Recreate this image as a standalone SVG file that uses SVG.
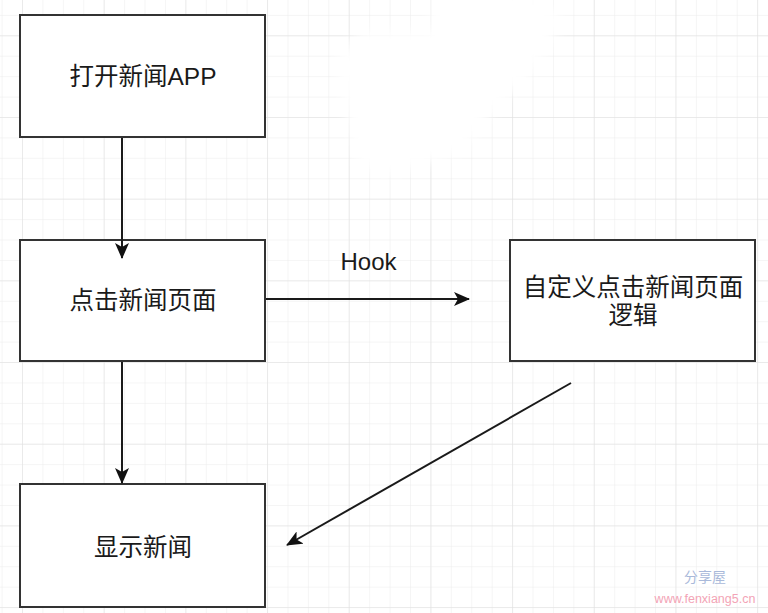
<svg xmlns="http://www.w3.org/2000/svg" width="768" height="613" viewBox="0 0 768 613">
<style>
.box{fill:#ffffff;stroke:#333333;stroke-width:2}
.lbl{font-family:"Liberation Sans","Noto Sans CJK SC",sans-serif;font-size:24.5px;fill:#1a1a1a;text-anchor:middle}
.edge{stroke:#1a1a1a;stroke-width:2;fill:none}
</style>
<defs>
<pattern id="minor" patternUnits="userSpaceOnUse" x="1.6" y="14.9" width="20.42" height="20.42">
<path d="M0 0V20.42M0 0H20.42" stroke="#ececec" stroke-width="1" fill="none"/>
</pattern>
<pattern id="major" patternUnits="userSpaceOnUse" x="22" y="35.3" width="81.68" height="81.68">
<path d="M0 0V81.68M0 0H81.68" stroke="#e0e0e0" stroke-width="1" fill="none"/>
</pattern>
<marker id="arr" viewBox="0 0 16 14" refX="15" refY="7" markerWidth="16" markerHeight="14" markerUnits="userSpaceOnUse" orient="auto">
<path d="M0 0L16 7L0 14L4 7Z" fill="#111111"/>
</marker>
<filter id="soft" x="-20%" y="-20%" width="140%" height="140%"><feGaussianBlur stdDeviation="6"/></filter>
</defs>
<rect width="768" height="613" fill="#ffffff"/>
<rect width="768" height="613" fill="url(#minor)"/>
<rect width="768" height="613" fill="url(#major)"/>
<polygon points="432,-10 525,-10 565,20 525,80 492,112 462,150 430,162 382,176 356,160 336,60 360,32 430,30" fill="#ffffff" filter="url(#soft)"/>
<g id="n1">
<rect class="box" x="20" y="15" width="245" height="122"/>
<text class="lbl" x="143" y="85">打开新闻APP</text>
</g>
<g id="n2">
<rect class="box" x="20" y="240" width="245" height="121"/>
<text class="lbl" x="143" y="309">点击新闻页面</text>
</g>
<g id="n3">
<rect class="box" x="20" y="484" width="245" height="123"/>
<text class="lbl" x="143" y="556">显示新闻</text>
</g>
<g id="n4">
<rect class="box" x="510" y="240" width="245" height="121"/>
<text class="lbl" x="633" y="296">自定义点击新闻页面</text>
<text class="lbl" x="633" y="324">逻辑</text>
</g>
<g id="connectors">
<line class="edge" x1="122" y1="138" x2="122" y2="258" marker-end="url(#arr)"/>
<line class="edge" x1="122" y1="362" x2="122" y2="483" marker-end="url(#arr)"/>
<line class="edge" x1="266" y1="299" x2="469" y2="299" marker-end="url(#arr)"/>
<line class="edge" x1="571" y1="383" x2="287" y2="545" marker-end="url(#arr)"/>
<text x="368.5" y="270" class="lbl" style="font-size:24px">Hook</text>
</g>
<g id="watermark">
<text x="705" y="582" style="font-family:'Noto Sans CJK SC',sans-serif;font-size:14px;fill:#a9b9da;text-anchor:middle">分享屋</text>
<text x="705" y="603" style="font-family:'Liberation Sans',sans-serif;font-size:12.5px;fill:#f3a4b6;text-anchor:middle">www.fenxiang5.cn</text>
</g>
</svg>
